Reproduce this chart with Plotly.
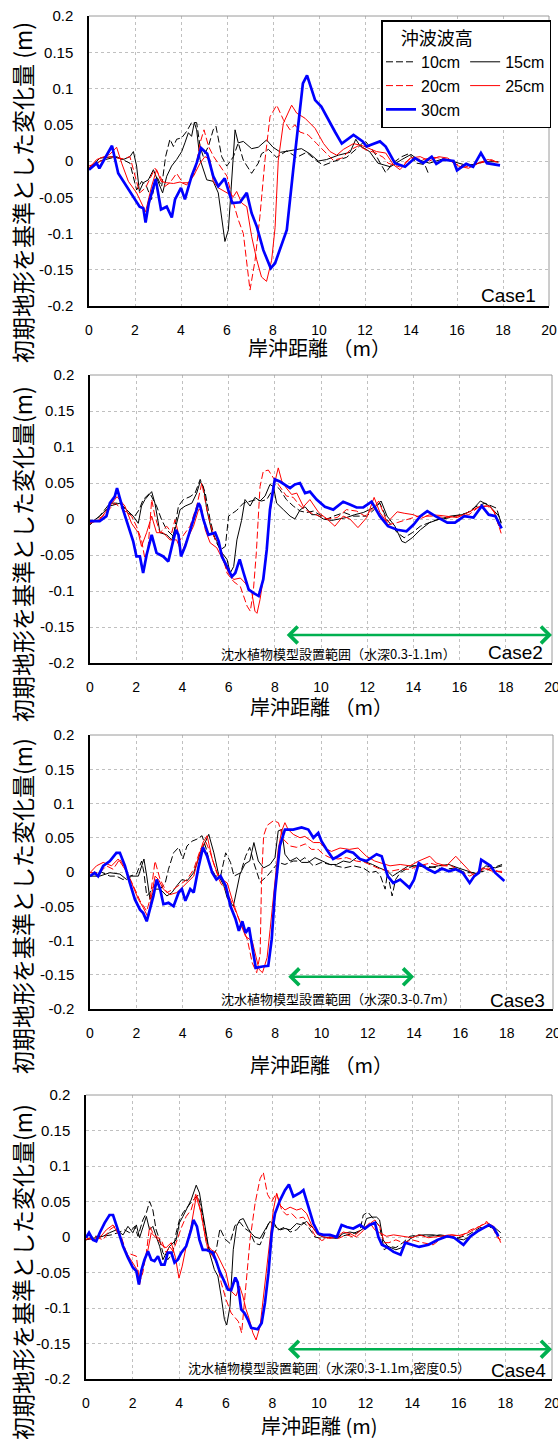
import plotly.graph_objects as go

W, H = 558, 1439

# ---------------- Case1 ----------------
c1_x10 = [0, 0.48, 1.2, 1.78, 2.07, 2.29, 2.5, 2.72, 2.94, 3.16, 3.33, 3.52, 3.67, 3.81, 4.03, 4.25, 4.46, 4.68, 4.83, 4.97, 5.19, 5.4, 5.52, 5.77, 5.99, 6.28, 6.49, 6.71, 7.07, 7.36, 7.5, 7.8, 8.16, 8.6, 9.03, 9.46, 9.9, 10.2, 10.6, 11.2, 11.64, 12.0, 12.4, 12.7, 12.9, 13.2, 13.6, 13.9, 14.25, 14.6, 14.78]
c1_y10 = [-0.012, 0.0, 0.006, -0.003, -0.04, -0.028, -0.035, -0.053, -0.021, -0.035, 0.006, 0.03, 0.02, 0.03, 0.032, 0.041, 0.053, 0.053, 0.02, 0.006, 0.02, 0.043, 0.048, 0.006, -0.007, 0.006, 0.025, 0.001, -0.017, -0.003, 0.01, 0.016, 0.005, 0.014, 0.005, 0.012, 0.0, -0.006, -0.001, 0.005, 0.017, 0.028, 0.012, -0.004, -0.016, -0.003, 0.006, 0.01, -0.003, -0.005, -0.019]
c1_x15 = [0, 0.48, 1.06, 1.49, 1.78, 1.93, 2.07, 2.19, 2.36, 2.58, 2.8, 2.97, 3.2, 3.38, 3.59, 3.81, 4.03, 4.17, 4.32, 4.46, 4.58, 4.68, 4.83, 5.12, 5.4, 5.62, 5.77, 5.91, 6.06, 6.2, 6.35, 6.49, 6.71, 7.07, 7.36, 7.72, 8.0, 8.33, 8.74, 9.24, 9.6, 9.97, 10.33, 10.84, 11.35, 11.6, 11.78, 12.2, 12.56, 13.1, 13.6, 14.0, 14.3, 14.8, 15.4, 15.8, 16.3, 16.7, 17.2, 17.8]
c1_y15 = [-0.01, 0.004, 0.006, 0.002, 0.006, 0.013, -0.007, -0.042, -0.03, -0.026, -0.012, -0.026, -0.044, -0.021, -0.007, 0.002, 0.013, 0.025, 0.039, 0.034, 0.053, 0.043, 0.002, -0.026, -0.028, -0.044, -0.081, -0.111, -0.095, -0.035, 0.043, 0.025, 0.027, 0.017, 0.019, 0.029, 0.019, 0.012, 0.014, 0.017, 0.01, 0.0, 0.002, 0.008, 0.012, 0.03, 0.021, 0.013, -0.003, -0.008, 0.002, 0.009, 0.002, -0.003, 0.003, -0.001, -0.005, -0.005, -0.001, -0.001]
c1_x20 = [0, 0.33, 0.9, 1.49, 1.78, 2.0, 2.2, 2.46, 2.72, 2.87, 3.09, 3.3, 3.52, 3.81, 4.07, 4.3, 4.6, 4.83, 5.0, 5.2, 5.42, 5.7, 6.0, 6.28, 6.49, 6.71, 6.86, 7.0, 7.22, 7.43, 7.65, 7.87, 8.16, 8.45, 8.74, 8.95, 9.17, 9.53, 9.9, 10.26, 10.62, 10.99, 11.35, 11.71, 12.07, 12.4, 12.8, 13.0, 13.5, 14.0, 14.5, 15.0, 15.5, 16.0, 16.5, 17.0, 17.5, 17.8]
c1_y20 = [-0.007, -0.003, 0.006, 0.003, 0.006, -0.021, -0.044, -0.037, -0.021, -0.01, -0.021, -0.035, -0.03, -0.017, -0.03, -0.03, -0.017, 0.025, 0.043, 0.02, 0.006, -0.007, -0.021, -0.058, -0.081, -0.1, -0.141, -0.178, -0.137, -0.077, 0.001, 0.061, 0.077, 0.057, 0.043, 0.05, 0.04, 0.036, 0.024, 0.013, 0.001, 0.004, 0.015, 0.021, 0.015, 0.012, 0.005, -0.003, -0.008, 0.004, 0.002, 0.005, 0.003, -0.005, -0.008, -0.003, 0.002, -0.003]
c1_x25 = [0, 0.33, 0.9, 1.2, 1.42, 1.71, 2.07, 2.29, 2.46, 2.72, 2.94, 3.13, 3.38, 3.67, 3.96, 4.25, 4.54, 4.83, 5.04, 5.26, 5.4, 5.62, 5.99, 6.28, 6.42, 6.64, 6.86, 7.07, 7.29, 7.5, 7.72, 7.94, 8.09, 8.23, 8.45, 8.81, 9.03, 9.39, 9.83, 10.2, 10.48, 10.77, 11.06, 11.5, 11.9, 12.5, 12.9, 13.23, 13.52, 13.96, 14.4, 14.8, 15.2, 15.6, 16.07, 16.5, 16.9, 17.35, 17.8]
c1_y25 = [-0.01, 0.002, 0.009, 0.019, -0.003, -0.028, -0.044, -0.06, -0.07, -0.035, -0.012, -0.028, -0.03, -0.031, -0.029, -0.033, -0.021, -0.003, 0.006, 0.002, -0.028, -0.037, -0.044, -0.049, -0.042, -0.058, -0.063, -0.104, -0.136, -0.16, -0.166, -0.137, -0.092, 0.001, 0.052, 0.077, 0.066, 0.059, 0.045, 0.024, 0.013, 0.008, 0.016, 0.024, 0.021, 0.013, 0.011, -0.005, -0.012, 0.004, 0.006, 0.0, 0.006, 0.004, -0.007, -0.01, -0.003, 0.002, -0.002]
c1_x30 = [0, 0.33, 0.45, 1.0, 1.27, 1.64, 2.2, 2.36, 2.46, 2.6, 2.9, 3.13, 3.38, 3.6, 3.74, 4.0, 4.17, 4.46, 4.68, 4.87, 5.14, 5.4, 5.62, 5.9, 6.13, 6.23, 6.57, 6.86, 7.07, 7.29, 7.58, 7.9, 8.09, 8.3, 8.6, 8.88, 9.1, 9.3, 9.48, 9.83, 10.1, 10.48, 10.7, 10.99, 11.5, 11.9, 12.07, 12.65, 12.9, 13.3, 13.74, 14.17, 14.53, 14.9, 15.1, 15.4, 15.85, 16.0, 16.4, 16.7, 17.04, 17.3, 17.87]
c1_y30 = [-0.012, -0.003, -0.01, 0.021, -0.017, -0.035, -0.063, -0.065, -0.085, -0.058, -0.025, -0.067, -0.063, -0.078, -0.053, -0.037, -0.053, -0.021, -0.003, 0.018, 0.01, -0.021, -0.035, -0.024, -0.049, -0.058, -0.057, -0.044, -0.072, -0.09, -0.123, -0.148, -0.141, -0.123, -0.095, -0.012, 0.047, 0.107, 0.118, 0.084, 0.075, 0.052, 0.04, 0.024, 0.036, 0.027, 0.02, 0.027, 0.02, -0.003, -0.008, 0.004, -0.003, 0.006, -0.004, 0.002, 0.0, -0.013, -0.004, -0.008, 0.011, -0.003, -0.006]

# ---------------- Case2 ----------------
c2_x10 = [0, 0.42, 0.86, 1.3, 1.65, 1.94, 2.13, 2.3, 2.59, 2.74, 2.88, 3.1, 3.32, 3.61, 3.83, 4.04, 4.33, 4.55, 4.77, 4.99, 5.2, 5.42, 5.64, 5.86, 6.0, 6.35, 6.64, 7.2, 7.43, 7.65, 7.86, 8.0, 8.22, 8.5, 8.8, 9.1, 9.38, 9.67, 9.96, 10.26, 10.55, 11.0, 11.4, 11.98, 12.3, 12.55, 12.86, 13.3, 13.6, 13.95, 14.3, 14.65, 15.0, 15.45, 15.85, 16.3, 16.7, 17.1, 17.6, 17.8]
c2_y10 = [-0.008, 0.004, 0.022, 0.022, 0.008, 0.004, 0.013, 0.027, 0.036, 0.027, 0.018, -0.001, -0.015, -0.024, 0.018, 0.027, 0.031, 0.036, 0.055, 0.036, -0.001, -0.029, -0.043, -0.038, 0.004, 0.012, 0.022, 0.027, 0.025, 0.027, 0.038, 0.048, 0.041, 0.027, 0.018, 0.011, 0.009, 0.011, 0.006, 0.0, 0.004, 0.009, 0.004, 0.004, 0.013, 0.022, -0.001, -0.019, -0.026, -0.019, -0.01, -0.005, -0.001, 0.001, 0.004, 0.008, 0.017, 0.022, 0.015, -0.006]
c2_x15 = [0, 0.42, 0.86, 1.3, 1.58, 1.87, 2.09, 2.23, 2.38, 2.67, 2.81, 3.03, 3.32, 3.54, 3.72, 3.9, 4.12, 4.41, 4.62, 4.77, 4.91, 5.06, 5.28, 5.49, 5.71, 5.93, 6.07, 6.22, 6.36, 6.56, 6.71, 6.93, 7.14, 7.36, 7.58, 7.79, 7.94, 8.08, 8.37, 8.66, 8.87, 9.1, 9.31, 9.6, 9.81, 10.1, 10.46, 10.8, 11.1, 11.46, 11.83, 12.1, 12.4, 12.6, 12.86, 13.2, 13.5, 13.65, 13.95, 14.3, 14.7, 15.15, 15.6, 16.1, 16.5, 16.9, 17.3, 17.7, 17.8]
c2_y15 = [-0.006, 0.004, 0.018, 0.022, 0.013, 0.004, -0.006, 0.018, 0.027, 0.038, 0.022, -0.019, -0.022, -0.029, -0.01, 0.013, 0.018, 0.022, 0.036, 0.052, 0.045, 0.013, -0.019, -0.031, -0.047, -0.056, -0.075, -0.066, -0.029, -0.002, 0.027, 0.018, 0.03, 0.025, 0.032, 0.048, 0.045, 0.022, 0.013, 0.004, 0.0, 0.013, 0.017, 0.006, 0.006, 0.0, -0.002, 0.0, 0.002, 0.006, 0.009, 0.013, 0.018, 0.025, 0.004, -0.01, -0.031, -0.033, -0.026, -0.015, -0.005, 0.0, 0.004, 0.006, 0.011, 0.025, 0.018, 0.004, -0.005]
c2_x20 = [0, 0.57, 1.07, 1.43, 1.8, 2.01, 2.23, 2.38, 2.52, 2.67, 2.81, 3.03, 3.32, 3.54, 3.68, 3.9, 4.12, 4.33, 4.62, 4.84, 5.06, 5.35, 5.64, 5.93, 6.22, 6.51, 6.8, 6.94, 7.07, 7.2, 7.36, 7.5, 7.72, 7.94, 8.22, 8.5, 8.8, 9.1, 9.52, 9.9, 10.26, 10.7, 11.1, 11.54, 11.9, 12.3, 12.5, 12.9, 13.3, 13.8, 14.2, 14.8, 15.4, 15.9, 16.4, 16.8, 17.2, 17.5, 17.8]
c2_y20 = [-0.006, 0.004, 0.022, 0.013, 0.004, -0.01, -0.029, -0.056, -0.038, 0.027, 0.004, -0.019, -0.01, -0.019, -0.001, -0.029, -0.019, -0.01, 0.018, 0.05, 0.013, -0.024, -0.038, -0.075, -0.087, -0.094, -0.121, -0.128, -0.1, -0.047, 0.045, 0.066, 0.068, 0.057, 0.045, 0.032, 0.03, 0.018, 0.009, 0.004, 0.0, 0.002, 0.013, 0.011, 0.004, 0.016, 0.025, -0.008, -0.005, 0.0, 0.004, 0.004, 0.002, 0.004, 0.006, 0.016, 0.018, 0.011, -0.02]
c2_x25 = [0, 0.42, 0.86, 1.17, 1.51, 1.8, 2.09, 2.23, 2.45, 2.67, 2.88, 3.17, 3.46, 3.75, 3.97, 4.19, 4.48, 4.7, 4.84, 4.99, 5.2, 5.49, 5.71, 6.0, 6.22, 6.51, 6.72, 7.01, 7.14, 7.23, 7.36, 7.58, 7.79, 8.0, 8.15, 8.3, 8.5, 8.73, 8.95, 9.24, 9.52, 9.9, 10.26, 10.6, 10.96, 11.25, 11.6, 11.98, 12.3, 12.55, 12.86, 13.1, 13.3, 13.6, 14.0, 14.35, 14.7, 15.15, 15.5, 15.9, 16.3, 16.6, 16.9, 17.3, 17.5, 17.7]
c2_y25 = [-0.006, -0.001, 0.018, 0.031, 0.018, -0.006, -0.019, -0.038, -0.019, 0.004, -0.019, -0.019, -0.029, -0.029, -0.047, -0.029, -0.01, 0.013, 0.013, -0.015, -0.033, -0.04, -0.054, -0.075, -0.084, -0.082, -0.089, -0.103, -0.128, -0.131, -0.112, -0.066, 0.008, 0.051, 0.071, 0.053, 0.043, 0.034, 0.036, 0.017, 0.027, 0.009, 0.0, -0.01, 0.004, 0.0, -0.012, 0.002, 0.03, 0.009, -0.005, 0.003, 0.01, 0.008, 0.006, 0.001, 0.006, 0.005, 0.004, 0.002, 0.008, 0.013, 0.018, 0.018, 0.009, -0.01]
c2_x30 = [0, 0.42, 0.71, 0.86, 1.07, 1.17, 1.43, 1.65, 1.87, 2.01, 2.16, 2.3, 2.45, 2.67, 2.88, 3.17, 3.39, 3.61, 3.72, 3.83, 3.94, 4.12, 4.33, 4.55, 4.7, 4.77, 4.91, 5.13, 5.42, 5.57, 5.71, 5.93, 6.14, 6.29, 6.48, 6.65, 6.87, 7.09, 7.3, 7.5, 7.65, 7.79, 8.0, 8.22, 8.44, 8.66, 8.87, 9.09, 9.31, 9.52, 9.81, 10.17, 10.53, 10.96, 11.25, 11.54, 11.83, 12.19, 12.55, 12.9, 13.3, 13.7, 14.0, 14.3, 14.6, 14.95, 15.47, 15.8, 16.2, 16.6, 16.96, 17.26, 17.55, 17.82]
c2_y30 = [-0.003, -0.003, 0.004, 0.022, 0.031, 0.043, 0.013, -0.01, -0.031, -0.052, -0.052, -0.075, -0.05, -0.022, -0.047, -0.052, -0.059, -0.029, -0.015, -0.022, -0.052, -0.038, -0.015, 0.008, 0.022, 0.018, -0.001, -0.022, -0.019, -0.031, -0.052, -0.066, -0.08, -0.075, -0.056, -0.075, -0.098, -0.103, -0.107, -0.084, -0.043, 0.013, 0.055, 0.052, 0.048, 0.043, 0.048, 0.05, 0.036, 0.038, 0.027, 0.017, 0.013, 0.024, 0.02, 0.016, 0.016, 0.024, 0.004, -0.01, -0.015, -0.017, -0.008, 0.004, 0.011, 0.004, -0.005, -0.005, 0.004, 0.002, 0.018, 0.006, 0.004, -0.013]

# ---------------- Case3 ----------------
c3_x10 = [0, 0.42, 0.86, 1.14, 1.43, 1.72, 2.01, 2.23, 2.33, 2.45, 2.59, 2.81, 3.03, 3.25, 3.39, 3.61, 3.83, 4.01, 4.19, 4.41, 4.62, 4.84, 5.03, 5.2, 5.42, 5.64, 5.86, 6.07, 6.22, 6.51, 6.72, 6.9, 7.09, 7.35, 7.65, 7.93, 8.14, 8.42, 8.78, 9.07, 9.28, 9.65, 10.0, 10.36, 10.65, 11.0, 11.37, 11.8, 12.1, 12.36, 12.55, 12.75, 12.85, 13.05, 13.2, 13.4, 13.75, 14.0, 14.45, 14.9, 15.35, 15.8, 16.2, 16.6, 17.0, 17.4, 17.8]
c3_y10 = [-0.006, 0.001, -0.006, -0.006, -0.011, -0.006, -0.003, 0.016, -0.001, -0.035, -0.03, -0.018, -0.025, -0.016, 0.004, 0.028, 0.036, 0.019, 0.038, 0.045, 0.048, 0.053, 0.033, 0.009, -0.006, -0.006, 0.028, 0.014, -0.006, -0.001, 0.023, 0.036, 0.012, -0.015, -0.006, 0.006, 0.014, 0.011, 0.016, 0.016, 0.021, 0.009, 0.014, 0.011, 0.009, 0.006, 0.009, 0.006, -0.001, 0.001, -0.006, -0.025, -0.001, -0.035, -0.011, -0.001, 0.006, 0.009, 0.009, 0.006, 0.004, 0.006, -0.001, -0.001, 0.001, 0.006, 0.011]
c3_x15 = [0, 0.42, 0.86, 1.29, 1.58, 1.8, 2.09, 2.23, 2.33, 2.45, 2.59, 2.81, 3.03, 3.32, 3.54, 3.75, 3.97, 4.19, 4.48, 4.77, 4.99, 5.13, 5.35, 5.57, 5.78, 5.93, 6.19, 6.48, 6.7, 6.9, 7.08, 7.27, 7.5, 7.78, 7.99, 8.13, 8.28, 8.42, 8.64, 8.93, 9.14, 9.43, 9.72, 10.07, 10.36, 10.65, 10.94, 11.23, 11.52, 11.8, 12.2, 12.5, 12.86, 13.07, 13.3, 13.75, 14.2, 14.6, 15.05, 15.5, 15.9, 16.3, 16.7, 17.1, 17.5, 17.8]
c3_y15 = [-0.006, -0.006, -0.001, -0.003, -0.011, -0.006, -0.006, 0.009, 0.019, -0.006, -0.04, -0.025, -0.025, -0.035, -0.03, -0.02, -0.011, -0.013, -0.001, 0.028, 0.045, 0.055, 0.028, -0.006, -0.02, -0.038, -0.05, -0.003, 0.012, 0.016, 0.043, 0.016, 0.006, 0.011, 0.021, 0.06, 0.062, 0.026, 0.016, 0.021, 0.014, 0.014, 0.021, 0.016, 0.011, 0.011, 0.016, 0.014, 0.021, 0.016, 0.011, 0.006, 0.001, -0.006, -0.001, 0.009, 0.009, 0.006, 0.009, 0.011, 0.006, 0.001, -0.003, 0.009, 0.006, 0.009]
c3_x20 = [0, 0.42, 0.71, 1.0, 1.29, 1.58, 1.87, 2.16, 2.45, 2.59, 2.81, 3.03, 3.32, 3.61, 3.9, 4.19, 4.48, 4.77, 4.99, 5.2, 5.42, 5.64, 5.93, 6.22, 6.51, 6.8, 7.01, 7.2, 7.35, 7.41, 7.5, 7.65, 7.93, 8.14, 8.35, 8.64, 8.93, 9.3, 9.57, 9.86, 10.07, 10.36, 10.72, 11.08, 11.5, 11.87, 12.2, 12.55, 12.96, 13.4, 13.8, 14.2, 14.7, 15.1, 15.6, 16.0, 16.4, 16.8, 17.2, 17.8]
c3_y20 = [-0.001, -0.001, 0.009, 0.004, 0.019, 0.001, -0.02, -0.042, -0.057, -0.04, 0.016, -0.011, -0.03, -0.025, -0.018, -0.011, 0.004, 0.033, 0.045, 0.028, 0.004, -0.016, -0.03, -0.052, -0.074, -0.099, -0.133, -0.147, -0.12, -0.011, 0.053, 0.068, 0.075, 0.072, 0.048, 0.038, 0.036, 0.041, 0.033, 0.033, 0.026, 0.021, 0.019, 0.021, 0.016, 0.014, 0.009, 0.004, 0.001, 0.004, 0.004, 0.009, 0.013, 0.009, 0.009, 0.001, -0.006, 0.001, 0.006, -0.001]
c3_x25 = [0, 0.28, 0.57, 0.93, 1.22, 1.51, 1.8, 2.09, 2.3, 2.52, 2.67, 2.81, 2.96, 3.17, 3.46, 3.75, 3.97, 4.19, 4.48, 4.7, 4.88, 5.06, 5.28, 5.49, 5.71, 5.93, 6.14, 6.43, 6.72, 7.01, 7.16, 7.3, 7.45, 7.65, 7.78, 7.99, 8.13, 8.28, 8.42, 8.56, 8.78, 9.07, 9.28, 9.65, 9.93, 10.14, 10.43, 10.8, 11.2, 11.58, 11.94, 12.3, 12.55, 12.96, 13.4, 13.82, 14.2, 14.68, 14.96, 15.4, 15.8, 16.2, 16.6, 16.95, 17.4, 17.8]
c3_y25 = [-0.001, 0.009, 0.014, 0.009, 0.019, 0.004, -0.016, -0.04, -0.052, -0.067, -0.033, -0.006, -0.011, -0.025, -0.033, -0.03, -0.023, -0.016, -0.006, 0.023, 0.043, 0.053, 0.019, -0.001, -0.011, -0.016, -0.04, -0.069, -0.094, -0.101, -0.123, -0.142, -0.147, -0.125, -0.084, -0.015, 0.033, 0.06, 0.072, 0.062, 0.055, 0.05, 0.052, 0.043, 0.043, 0.035, 0.03, 0.035, 0.033, 0.035, 0.023, 0.016, 0.013, 0.009, 0.011, 0.009, 0.016, 0.023, 0.013, 0.009, 0.023, 0.009, -0.006, 0.006, 0.001, 0.001]
c3_x30 = [0, 0.2, 0.35, 0.57, 0.86, 1.14, 1.29, 1.51, 1.72, 1.94, 2.16, 2.3, 2.45, 2.59, 2.74, 2.88, 3.03, 3.17, 3.39, 3.61, 3.83, 3.97, 4.12, 4.33, 4.48, 4.7, 4.88, 5.06, 5.28, 5.46, 5.64, 5.86, 6.07, 6.29, 6.43, 6.58, 6.72, 6.87, 7.01, 7.16, 7.45, 7.7, 7.85, 7.99, 8.2, 8.42, 8.78, 9.14, 9.43, 9.65, 9.86, 10.0, 10.22, 10.5, 10.72, 11.08, 11.37, 11.66, 11.94, 12.38, 12.6, 12.86, 13.1, 13.4, 13.8, 14.0, 14.2, 14.6, 14.9, 15.2, 15.5, 15.8, 16.1, 16.4, 16.6, 16.8, 16.9, 17.1, 17.3, 17.5, 17.9]
c3_y30 = [-0.006, -0.001, -0.006, 0.009, 0.016, 0.028, 0.028, 0.009, -0.016, -0.04, -0.055, -0.06, -0.072, -0.055, -0.035, -0.011, -0.025, -0.047, -0.045, -0.05, -0.03, -0.025, -0.042, -0.025, -0.03, 0.009, 0.036, 0.023, -0.001, -0.011, -0.006, -0.02, -0.05, -0.069, -0.086, -0.072, -0.089, -0.081, -0.108, -0.14, -0.138, -0.137, -0.098, -0.03, 0.038, 0.062, 0.062, 0.065, 0.062, 0.05, 0.057, 0.045, 0.033, 0.019, 0.023, 0.031, 0.028, 0.019, 0.016, 0.026, 0.023, -0.006, -0.016, -0.011, -0.023, -0.011, 0.013, 0.004, -0.001, 0.005, 0.001, 0.004, -0.001, -0.016, -0.006, -0.001, 0.018, 0.013, 0.009, -0.001, -0.013]

# ---------------- Case4 ----------------
c4_x10 = [0, 0.3, 0.73, 1.09, 1.37, 1.66, 1.87, 2.09, 2.23, 2.44, 2.59, 2.73, 2.87, 3.01, 3.16, 3.3, 3.51, 3.73, 3.87, 4.01, 4.16, 4.37, 4.59, 4.8, 4.94, 5.09, 5.23, 5.44, 5.59, 5.75, 5.97, 6.18, 6.39, 6.6, 6.82, 7.04, 7.25, 7.47, 7.83, 8.04, 8.26, 8.54, 8.76, 9.04, 9.33, 9.54, 9.83, 10.12, 10.47, 10.83, 11.19, 11.47, 11.76, 11.9, 12.1, 12.33, 12.6, 12.8, 13.0, 13.3, 13.6, 13.9, 14.3, 14.7, 15.2, 15.6, 16.0, 16.4, 16.9, 17.3, 17.6, 17.8]
c4_y10 = [-0.004, 0.001, 0.001, 0.003, 0.006, 0.01, 0.006, 0.015, 0.001, 0.024, 0.034, 0.05, 0.038, 0.01, -0.004, -0.022, -0.032, -0.022, 0.006, 0.024, 0.034, 0.043, 0.052, 0.059, 0.041, 0.015, -0.013, -0.027, -0.018, 0.012, -0.003, -0.009, 0.016, 0.021, 0.012, 0.007, -0.009, -0.011, 0.019, 0.021, 0.01, 0.014, 0.007, 0.01, 0.021, 0.014, 0.0, -0.002, 0.0, 0.0, 0.003, 0.005, 0.009, 0.031, 0.035, 0.026, 0.015, -0.018, -0.013, -0.015, -0.008, 0.001, 0.003, 0.001, 0.003, 0.001, -0.001, 0.003, 0.013, 0.015, 0.008, -0.001]
c4_x15 = [0, 0.37, 0.73, 1.01, 1.3, 1.59, 1.8, 2.01, 2.16, 2.3, 2.44, 2.59, 2.73, 2.87, 3.01, 3.16, 3.3, 3.59, 3.87, 4.01, 4.16, 4.3, 4.51, 4.73, 4.87, 5.01, 5.16, 5.3, 5.51, 5.66, 5.8, 5.94, 6.04, 6.18, 6.32, 6.46, 6.6, 6.75, 6.96, 7.1, 7.25, 7.47, 7.68, 7.9, 8.1, 8.33, 8.54, 8.76, 9.04, 9.25, 9.47, 9.76, 9.97, 10.19, 10.76, 11.04, 11.33, 11.6, 11.9, 12.04, 12.26, 12.47, 12.6, 12.75, 12.95, 13.3, 13.55, 13.85, 14.1, 14.5, 14.9, 15.35, 15.75, 16.2, 16.5, 16.9, 17.3, 17.55, 17.8]
c4_y15 = [-0.004, -0.001, 0.001, 0.006, 0.01, 0.003, 0.015, 0.006, 0.017, -0.001, 0.015, 0.029, 0.01, 0.015, 0.001, -0.013, -0.032, -0.013, -0.004, 0.02, 0.029, 0.038, 0.052, 0.073, 0.062, 0.034, 0.006, -0.022, -0.046, -0.055, -0.083, -0.116, -0.124, -0.098, -0.018, 0.015, 0.024, 0.026, 0.012, 0.005, 0.0, -0.002, 0.01, 0.022, 0.015, 0.01, 0.012, 0.01, 0.019, 0.017, 0.022, 0.012, 0.003, 0.0, -0.002, 0.005, 0.007, 0.005, 0.012, 0.026, 0.028, 0.028, 0.024, -0.004, -0.013, -0.018, -0.015, -0.004, 0.001, 0.003, 0.003, 0.001, -0.001, -0.004, 0.001, 0.01, 0.017, 0.013, 0.006]
c4_x20 = [0, 0.37, 0.73, 1.01, 1.23, 1.51, 1.73, 1.94, 2.16, 2.3, 2.44, 2.59, 2.73, 2.87, 3.01, 3.23, 3.44, 3.59, 3.73, 3.87, 4.09, 4.3, 4.51, 4.73, 4.87, 5.04, 5.23, 5.44, 5.66, 5.8, 6.01, 6.23, 6.44, 6.54, 6.68, 6.83, 7.04, 7.26, 7.47, 7.61, 7.79, 7.97, 8.18, 8.4, 8.61, 8.83, 9.04, 9.33, 9.54, 9.83, 10.12, 10.47, 10.83, 11.19, 11.47, 11.76, 12.1, 12.4, 12.6, 12.8, 13.0, 13.3, 13.6, 14.0, 14.45, 14.9, 15.3, 15.7, 16.1, 16.5, 16.9, 17.2, 17.5, 17.65, 17.8]
c4_y20 = [-0.004, 0.001, -0.004, 0.01, 0.015, 0.001, -0.022, -0.025, -0.027, -0.064, -0.05, -0.022, 0.015, 0.006, 0.001, -0.004, -0.022, -0.013, -0.02, -0.008, 0.013, 0.029, 0.038, 0.062, 0.045, 0.015, -0.018, -0.027, -0.041, -0.064, -0.088, -0.107, -0.116, -0.119, -0.135, -0.084, -0.004, 0.048, 0.082, 0.091, 0.06, 0.05, 0.062, 0.038, 0.031, 0.033, 0.026, 0.028, 0.019, 0.002, -0.005, 0.0, -0.002, 0.003, 0.0, 0.009, 0.017, 0.024, 0.015, -0.008, -0.008, -0.004, -0.008, -0.004, -0.008, -0.011, -0.001, 0.003, 0.001, 0.01, 0.015, 0.022, 0.01, -0.001, -0.004]
c4_x25 = [0, 0.3, 0.59, 0.87, 1.16, 1.44, 1.73, 2.01, 2.19, 2.3, 2.44, 2.66, 2.8, 2.94, 3.09, 3.3, 3.44, 3.66, 3.84, 3.99, 4.13, 4.3, 4.51, 4.73, 4.94, 5.16, 5.37, 5.59, 5.8, 6.01, 6.16, 6.3, 6.44, 6.59, 6.73, 6.87, 7.01, 7.16, 7.3, 7.47, 7.61, 7.76, 7.9, 8.04, 8.18, 8.33, 8.54, 8.76, 9.04, 9.25, 9.47, 9.69, 9.9, 10.19, 10.47, 10.76, 11.04, 11.33, 11.6, 11.9, 12.17, 12.4, 12.6, 12.9, 13.2, 13.6, 14.0, 14.3, 14.7, 15.2, 15.6, 16.0, 16.4, 16.9, 17.2, 17.5, 17.7, 17.8]
c4_y25 = [-0.001, -0.004, -0.001, 0.01, 0.017, 0.001, -0.022, -0.036, -0.046, -0.067, -0.041, -0.018, 0.006, 0.001, -0.004, -0.013, -0.015, -0.008, -0.029, -0.058, -0.041, -0.013, 0.015, 0.057, 0.034, -0.008, -0.018, -0.022, -0.036, -0.05, -0.074, -0.079, -0.083, -0.069, -0.083, -0.102, -0.116, -0.135, -0.145, -0.126, -0.084, -0.042, 0.0, 0.038, 0.061, 0.045, 0.038, 0.042, 0.038, 0.04, 0.033, 0.016, 0.005, 0.0, -0.002, 0.0, 0.007, 0.005, 0.0, 0.009, 0.02, 0.01, 0.006, 0.001, 0.003, 0.001, -0.001, 0.003, -0.001, 0.001, 0.003, 0.002, 0.006, 0.015, 0.02, 0.015, -0.001, -0.008]
c4_x30 = [0, 0.13, 0.3, 0.44, 0.59, 0.8, 1.01, 1.16, 1.37, 1.59, 1.8, 2.01, 2.16, 2.27, 2.37, 2.51, 2.66, 2.8, 2.94, 3.09, 3.23, 3.37, 3.51, 3.66, 3.8, 3.94, 4.09, 4.3, 4.51, 4.61, 4.76, 4.87, 5.01, 5.16, 5.3, 5.44, 5.59, 5.73, 5.9, 6.09, 6.23, 6.41, 6.51, 6.66, 6.8, 6.94, 7.09, 7.37, 7.54, 7.68, 7.83, 7.97, 8.11, 8.33, 8.54, 8.71, 8.9, 9.18, 9.33, 9.54, 9.76, 9.97, 10.19, 10.47, 10.76, 10.97, 11.19, 11.47, 11.76, 11.97, 12.18, 12.4, 12.55, 12.7, 12.9, 13.2, 13.5, 13.7, 14.0, 14.3, 14.7, 15.1, 15.5, 15.8, 16.2, 16.5, 16.8, 17.1, 17.3, 17.5, 17.7]
c4_y30 = [-0.001, 0.006, -0.004, -0.006, 0.006, 0.02, 0.031, 0.031, 0.01, -0.013, -0.029, -0.043, -0.048, -0.067, -0.048, -0.032, -0.02, -0.032, -0.034, -0.027, -0.039, -0.039, -0.022, -0.022, -0.036, -0.032, -0.022, -0.013, 0.01, 0.024, 0.015, -0.004, -0.018, -0.018, -0.02, -0.022, -0.034, -0.048, -0.06, -0.074, -0.075, -0.057, -0.064, -0.102, -0.107, -0.116, -0.128, -0.13, -0.121, -0.093, -0.051, 0.005, 0.033, 0.052, 0.066, 0.074, 0.057, 0.062, 0.066, 0.043, 0.019, 0.005, 0.003, 0.003, 0.0, 0.017, 0.014, 0.012, 0.017, 0.012, 0.017, 0.02, 0.0, -0.011, -0.014, -0.021, -0.025, -0.008, -0.011, -0.014, -0.011, -0.004, 0.001, -0.001, -0.011, 0.001, 0.008, 0.013, 0.017, 0.013, 0.001]

# ---------------- labels / ticks ----------------
series_names = ["10cm", "15cm", "20cm", "25cm", "30cm"]
case_labels = ["Case1", "Case2", "Case3", "Case4"]
x_tickvals = [0, 2, 4, 6, 8, 10, 12, 14, 16, 18, 20]
y_tickvals = [-0.2, -0.15, -0.1, -0.05, 0, 0.05, 0.1, 0.15, 0.2]
y_ticktext = ["-0.2", "-0.15", "-0.1", "-0.05", "0", "0.05", "0.1", "0.15", "0.2"]
y_titles = ["初期地形を基準とした変化量 (m)", "初期地形を基準とした変化量(m)",
            "初期地形を基準とした変化量(m)", "初期地形を基準とした変化量(m)"]
x_titles = ["岸沖距離 （m）", "岸沖距離 （m）", "岸沖距離 （m）", "岸沖距離 (m)"]
legend_title = "沖波波高"
zone_texts = ["沈水植物模型設置範囲（水深0.3-1.1m）",
              "沈水植物模型設置範囲（水深0.3-0.7m）",
              "沈水植物模型設置範囲（水深0.3-1.1m,密度0.5）"]
zone_x0 = [8.45, 8.5, 8.6]
zone_x1 = [20, 14, 20]
zone_y = [-0.161, -0.153, -0.158]

cases = [
    [(c1_x10, c1_y10), (c1_x15, c1_y15), (c1_x20, c1_y20), (c1_x25, c1_y25), (c1_x30, c1_y30)],
    [(c2_x10, c2_y10), (c2_x15, c2_y15), (c2_x20, c2_y20), (c2_x25, c2_y25), (c2_x30, c2_y30)],
    [(c3_x10, c3_y10), (c3_x15, c3_y15), (c3_x20, c3_y20), (c3_x25, c3_y25), (c3_x30, c3_y30)],
    [(c4_x10, c4_y10), (c4_x15, c4_y15), (c4_x20, c4_y20), (c4_x25, c4_y25), (c4_x30, c4_y30)],
]

# ---------------- styling ----------------
styles = {
    "10cm": dict(color="#000000", width=1, dash="7px,3px"),
    "15cm": dict(color="#000000", width=1, dash="solid"),
    "20cm": dict(color="#ff0000", width=1, dash="7px,3px"),
    "25cm": dict(color="#ff0000", width=1, dash="solid"),
    "30cm": dict(color="#0000ff", width=2.7, dash="solid"),
}
groups = {"10cm": "a", "20cm": "a", "30cm": "a", "15cm": "b", "25cm": "b"}

# plot areas in pixels: left, right, top, bottom
boxes = [(89, 549, 16, 306), (90, 552, 375, 663), (90, 553, 735, 1009), (86, 552, 1095, 1379)]
ytitle_cy = [193, 554, 906, 1272]
xtitle_cy = [347, 706, 1064, 1425]
case_pos = [(538, 295), (545, 652), (547, 1000), (548, 1370)]
zone_pos = [None, (338, 653), (338, 998), (329, 1367)]

TICKFONT = "Liberation Sans, Arial, sans-serif"
JPFONT = "Noto Sans CJK JP, sans-serif"
GRID = "#c0c0c0"
GREEN = "#00b050"

def px(x):
    return x / W

def py(y):
    return 1 - y / H

fig = go.Figure()
layout = dict(
    template="none",
    width=W, height=H,
    margin=dict(l=0, r=0, t=0, b=0, pad=0, autoexpand=False),
    paper_bgcolor="white", plot_bgcolor="white",
    font=dict(family=TICKFONT, color="black"),
    showlegend=True,
    annotations=[], shapes=[],
)

for i, case in enumerate(cases):
    n = i + 1
    xa = "x" if n == 1 else f"x{n}"
    ya = "y" if n == 1 else f"y{n}"
    xk = "xaxis" if n == 1 else f"xaxis{n}"
    yk = "yaxis" if n == 1 else f"yaxis{n}"
    l, r, t, b = boxes[i]
    for name, (xs, ys) in zip(series_names, case):
        st = styles[name]
        fig.add_trace(go.Scatter(
            x=xs, y=ys, mode="lines", name=name,
            line=dict(color=st["color"], width=st["width"], dash=st["dash"]),
            xaxis=xa, yaxis=ya,
            legendgroup=groups[name], showlegend=(n == 1),
            hoverinfo="skip",
        ))
    layout[xk] = dict(
        domain=[px(l), px(r)], anchor=ya, range=[0, 20], automargin=False,
        tickmode="array", tickvals=x_tickvals, showgrid=True, gridcolor=GRID, griddash="dot", gridwidth=1,
        showline=True, linecolor="black", linewidth=1.5, zeroline=False,
        ticks="", ticklabelstandoff=10, ticklabeloverflow="allow",
        tickfont=dict(family=TICKFONT, size=14, color="black"),
        fixedrange=True,
    )
    layout[yk] = dict(
        domain=[py(b), py(t)], anchor=xa, range=[-0.2, 0.2], automargin=False,
        tickmode="array", tickvals=y_tickvals, ticktext=y_ticktext,
        showgrid=True, gridcolor=GRID, griddash="dot", gridwidth=1,
        showline=True, linecolor="black", linewidth=1.5, zeroline=False,
        ticks="", ticklabelstandoff=11, ticklabeloverflow="allow",
        tickfont=dict(family=TICKFONT, size=15, color="black"),
        fixedrange=True,
    )
    # gray frame on top and right
    layout["shapes"].append(dict(type="line", xref=f"{xa} domain", yref=f"{ya} domain",
                                 x0=0, x1=1, y0=1, y1=1, line=dict(color="#9a9a9a", width=1)))
    layout["shapes"].append(dict(type="line", xref=f"{xa} domain", yref=f"{ya} domain",
                                 x0=1, x1=1, y0=0, y1=1, line=dict(color="#9a9a9a", width=1)))
    # axis titles
    layout["annotations"].append(dict(
        text=y_titles[i], textangle=-90, xref="paper", yref="paper",
        x=px(22), y=py(ytitle_cy[i]), xanchor="center", yanchor="middle",
        showarrow=False, font=dict(family=JPFONT, size=23, color="black")))
    layout["annotations"].append(dict(
        text=x_titles[i], xref="paper", yref="paper",
        x=px((l + r) / 2), y=py(xtitle_cy[i]), xanchor="center", yanchor="middle",
        showarrow=False, font=dict(family=JPFONT, size=20, color="black")))
    # case label
    cx, cy = case_pos[i]
    layout["annotations"].append(dict(
        text=case_labels[i], xref="paper", yref="paper", x=px(cx), y=py(cy),
        xanchor="right", yanchor="middle", showarrow=False,
        font=dict(family=TICKFONT, size=19, color="black")))
    if i > 0:
        zx, zy = zone_pos[i]
        layout["annotations"].append(dict(
            text=zone_texts[i - 1], xref="paper", yref="paper", x=px(zx), y=py(zy),
            xanchor="center", yanchor="middle", showarrow=False,
            font=dict(family=JPFONT, size=13, color="black")))
        layout["annotations"].append(dict(
            text="", xref=xa, yref=ya, axref=xa, ayref=ya,
            x=zone_x1[i - 1], y=zone_y[i - 1], ax=zone_x0[i - 1], ay=zone_y[i - 1],
            showarrow=True, arrowside="end+start", arrowhead=4, startarrowhead=4,
            arrowsize=1.3, startarrowsize=1.3, arrowwidth=2.5, arrowcolor=GREEN,
            standoff=0, startstandoff=0))

layout["legend"] = dict(
    x=px(381), y=py(20), xanchor="left", yanchor="top", xref="paper", yref="paper",
    orientation="h", traceorder="grouped", tracegroupgap=0,
    bgcolor="white", bordercolor="black", borderwidth=1.5,
    font=dict(family=TICKFONT, size=16, color="black"),
    title=dict(text="\u00a0\u00a0\u00a0\u00a0" + legend_title, side="top",
               font=dict(family=JPFONT, size=18, color="black")),
    itemwidth=30,
)

fig.update_layout(**layout)
fig.write_html(
    "out.html",
    config={"displayModeBar": False},
    post_script="document.body.style.margin='0px';document.body.style.padding='0px';"
                "document.documentElement.style.overflow='hidden';",
)
